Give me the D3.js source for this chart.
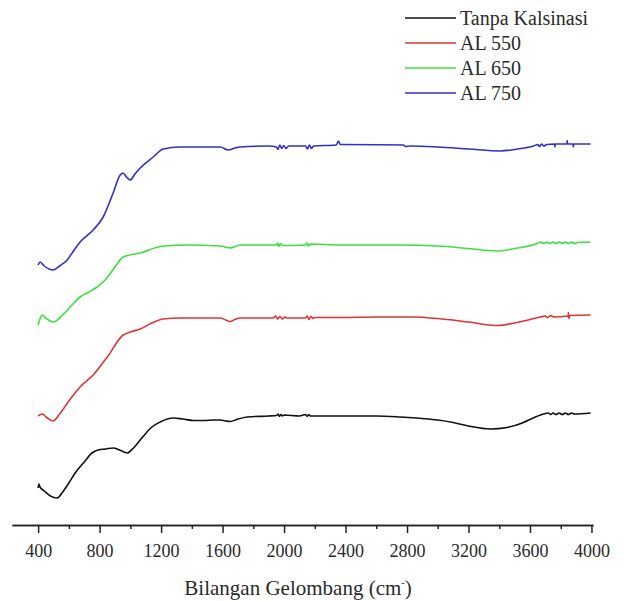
<!DOCTYPE html>
<html lang="id">
<head>
  <meta charset="UTF-8" />
  <title>FTIR</title>
  <script src="https://d3js.org/d3.v7.min.js"></script>
  <style>
    body { margin: 0; background: #fff; }
    .axis path, .axis line { stroke: #222; stroke-width: 1.5px; }
    .curve { fill: none; stroke-width: 1.6px; stroke-linejoin: round; }
  </style>
</head>
<body>
  <svg width="626" height="601"></svg>

  <script>
    // wavenumber (cm-1), transmittance (a.u., stacked)
    const tanpaKalsinasi = [
      [400, 7.4], [405, 8.2], [412, 7.6], [440, 6.8], [480, 5.8], [524, 5.4], [560, 6.6],
      [600, 8.4], [641, 10.4], [700, 12.6], [750, 14.4], [790, 15.0], [840, 15.2],
      [888, 15.4], [930, 15.0], [979, 14.4], [1020, 15.4], [1080, 17.6], [1140, 19.6],
      [1194, 20.6], [1240, 21.2], [1279, 21.4], [1340, 21.2], [1409, 20.9], [1480, 20.9],
      [1540, 21.0], [1585, 21.0], [1620, 20.8], [1650, 20.7], [1700, 21.2], [1760, 21.6],
      [1900, 21.8], [1950, 21.9], [1962, 22.2], [1970, 21.7], [1980, 22.1], [1990, 21.8],
      [2000, 22.0], [2100, 21.8], [2140, 22.1], [2150, 21.7], [2160, 22.1], [2170, 21.8],
      [2366, 21.8], [2600, 21.8], [2757, 21.6], [2900, 21.3], [3000, 21.0], [3100, 20.5],
      [3200, 19.8], [3343, 19.2], [3450, 19.5], [3550, 20.4], [3620, 21.4], [3688, 22.2],
      [3720, 22.4], [3735, 22.1], [3750, 22.4], [3770, 22.1], [3790, 22.4], [3810, 22.1],
      [3830, 22.4], [3850, 22.1], [3870, 22.4], [3890, 22.2], [3994, 22.4]
    ];

    const al550 = [
      [400, 21.8], [426, 22.2], [460, 21.4], [498, 20.8], [540, 22.2], [600, 24.8],
      [673, 27.6], [758, 30.0], [850, 33.6], [953, 38.0], [1000, 38.6], [1064, 39.2],
      [1140, 40.4], [1214, 41.2], [1324, 41.4], [1585, 41.4], [1620, 41.0], [1650, 40.7],
      [1680, 41.1], [1715, 41.4], [1930, 41.4], [1945, 41.8], [1958, 41.2], [1972, 41.7],
      [1990, 41.2], [2005, 41.6], [2020, 41.4], [2140, 41.4], [2150, 41.8], [2162, 41.1],
      [2175, 41.7], [2190, 41.3], [2200, 41.5], [2366, 41.5], [2600, 41.6], [2843, 41.6],
      [3000, 41.3], [3200, 40.6], [3388, 39.9], [3500, 40.4], [3600, 41.1], [3668, 41.6],
      [3700, 41.8], [3715, 41.5], [3735, 41.9], [3755, 41.6], [3848, 41.8], [3850, 42.5],
      [3853, 41.3], [3858, 41.9], [3994, 42.0]
    ];

    const al650 = [
      [400, 40.0], [412, 41.2], [426, 42.0], [450, 41.4], [498, 40.6], [560, 42.0],
      [620, 44.0], [673, 45.6], [730, 46.6], [784, 47.6], [836, 49.0], [900, 51.6],
      [953, 53.6], [1064, 54.4], [1214, 55.8], [1370, 56.0], [1585, 55.8], [1650, 55.4],
      [1715, 56.0], [1950, 56.0], [1958, 56.4], [1966, 55.7], [1976, 56.3], [1990, 55.9],
      [2140, 56.0], [2148, 56.4], [2158, 55.8], [2170, 56.2], [2366, 56.0], [2757, 56.0],
      [3000, 55.8], [3200, 55.3], [3388, 54.8], [3520, 55.4], [3648, 56.3], [3670, 56.6],
      [3690, 56.3], [3710, 56.6], [3730, 56.3], [3750, 56.6], [3770, 56.3], [3790, 56.6],
      [3810, 56.3], [3830, 56.6], [3850, 56.3], [3870, 56.6], [3890, 56.3], [3910, 56.5],
      [3994, 56.6]
    ];

    const al750 = [
      [400, 52.0], [413, 52.6], [440, 51.8], [498, 51.0], [540, 51.8], [589, 53.0],
      [630, 54.8], [673, 56.6], [758, 59.0], [823, 61.6], [888, 66.4], [934, 70.0],
      [953, 70.4], [975, 69.6], [999, 69.0], [1030, 70.2], [1064, 71.4], [1149, 73.6],
      [1214, 75.2], [1324, 75.6], [1585, 75.6], [1637, 75.0], [1680, 75.4], [1715, 75.6],
      [1900, 75.8], [1950, 75.6], [1960, 75.1], [1972, 76.0], [1985, 75.3], [1998, 75.9],
      [2012, 75.3], [2030, 75.8], [2140, 75.8], [2152, 75.2], [2165, 76.0], [2178, 75.3],
      [2192, 75.8], [2340, 76.0], [2353, 76.8], [2366, 76.1], [2777, 76.0], [2790, 75.7],
      [2822, 75.8], [3000, 75.6], [3200, 75.2], [3408, 74.8], [3520, 75.2], [3622, 75.8],
      [3650, 76.1], [3662, 75.7], [3676, 76.2], [3690, 75.8], [3710, 76.1], [3760, 76.2],
      [3762, 75.6], [3765, 76.2], [3840, 76.2], [3842, 76.9], [3845, 76.2], [3880, 76.2],
      [3882, 75.6], [3885, 76.2], [3994, 76.2]
    ];

    const seriesNames = ["Tanpa Kalsinasi", "AL 550", "AL 650", "AL 750"];
    const seriesColors = ["#111111", "#e03333", "#3ddf3d", "#3030c8"];
    const seriesData = [tanpaKalsinasi, al550, al650, al750];

    const majorTicks = [400, 800, 1200, 1600, 2000, 2400, 2800, 3200, 3600, 4000];
    const minorTicks = [600, 1000, 1400, 1800, 2200, 2600, 3000, 3400, 3800];

    const serif = '"Liberation Serif", "Times New Roman", serif';
    const svg = d3.select("svg");

    const x = d3.scaleLinear().domain([230, 4010]).range([12, 593]);
    const y = d3.scaleLinear().domain([0, 100]).range([525, 25]);

    const line = d3.line()
      .x(d => x(d[0]))
      .y(d => y(d[1]))
      .curve(d3.curveMonotoneX);

    svg.selectAll(".curve")
      .data(seriesData)
      .enter()
      .append("path")
      .attr("class", "curve")
      .attr("stroke", (d, i) => seriesColors[i])
      .attr("d", line);

    // axes
    svg.append("g")
      .attr("class", "axis")
      .attr("transform", "translate(0,525)")
      .call(d3.axisBottom(x).tickValues(minorTicks).tickFormat("").tickSize(4).tickSizeOuter(0));

    const xAxis = svg.append("g")
      .attr("class", "axis")
      .attr("transform", "translate(0,525)")
      .call(d3.axisBottom(x).tickValues(majorTicks).tickFormat(d3.format("d")).tickSize(8).tickSizeOuter(0));
    xAxis.selectAll("text")
      .attr("dy", "0.71em")
      .attr("y", 19)
      .attr("fill", "#2a2a2a")
      .style("font-family", serif)
      .style("font-size", "18px");

    const title = svg.append("text")
      .attr("x", 298)
      .attr("y", 595)
      .attr("text-anchor", "middle")
      .attr("fill", "#2a2a2a")
      .style("font-family", serif)
      .style("font-size", "21px")
      .text("Bilangan Gelombang (cm");
    title.append("tspan").attr("dy", -9).style("font-size", "10px").text("-");
    title.append("tspan").attr("dy", 9).text(")");

    // legend
    const legend = svg.selectAll(".legend")
      .data(seriesNames)
      .enter()
      .append("g")
      .attr("class", "legend")
      .attr("transform", (d, i) => `translate(405,${18 + i * 25})`);

    legend.append("line")
      .attr("x1", 0).attr("x2", 51)
      .attr("stroke", (d, i) => seriesColors[i])
      .attr("stroke-width", 1.6);

    legend.append("text")
      .attr("x", 55)
      .attr("dy", "0.35em")
      .attr("fill", "#2a2a2a")
      .style("font-family", serif)
      .style("font-size", "20px")
      .text(d => d);
  </script>
</body>
</html>
